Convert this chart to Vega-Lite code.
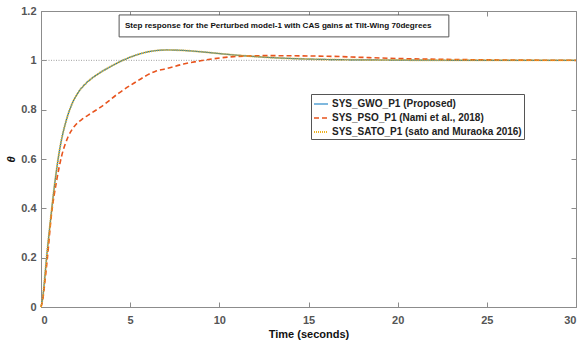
{
  "$schema": "https://vega.github.io/schema/vega-lite/v6.json",
  "width": 535,
  "height": 296,
  "autosize": {"type": "none"},
  "padding": {"left": 41, "top": 11, "right": 5, "bottom": 40},
  "background": "white",
  "config": {
    "view": {"stroke": "#8c8c8c", "strokeWidth": 1},
    "font": "Liberation Sans",
    "axis": {"grid": false, "domainColor": "#8c8c8c", "tickColor": "#8c8c8c", "labelColor": "#555555", "labelFont": "Liberation Sans", "labelFontWeight": "bold", "labelFontSize": 11, "titleFont": "Liberation Sans", "titleFontWeight": "bold", "titleFontSize": 11, "titleColor": "#111111"}
  },
  "datasets": {
    "curves": [
      {"t": 0, "v": 0, "series": "SYS_GWO_P1 (Proposed)"},
      {"t": 0.1, "v": 0.04, "series": "SYS_GWO_P1 (Proposed)"},
      {"t": 0.2, "v": 0.11, "series": "SYS_GWO_P1 (Proposed)"},
      {"t": 0.3, "v": 0.19, "series": "SYS_GWO_P1 (Proposed)"},
      {"t": 0.5, "v": 0.33, "series": "SYS_GWO_P1 (Proposed)"},
      {"t": 0.77, "v": 0.5, "series": "SYS_GWO_P1 (Proposed)"},
      {"t": 1.05, "v": 0.64, "series": "SYS_GWO_P1 (Proposed)"},
      {"t": 1.43, "v": 0.76, "series": "SYS_GWO_P1 (Proposed)"},
      {"t": 1.75, "v": 0.825, "series": "SYS_GWO_P1 (Proposed)"},
      {"t": 2.09, "v": 0.87, "series": "SYS_GWO_P1 (Proposed)"},
      {"t": 2.5, "v": 0.905, "series": "SYS_GWO_P1 (Proposed)"},
      {"t": 3.1, "v": 0.94, "series": "SYS_GWO_P1 (Proposed)"},
      {"t": 3.78, "v": 0.97, "series": "SYS_GWO_P1 (Proposed)"},
      {"t": 4.53, "v": 0.998, "series": "SYS_GWO_P1 (Proposed)"},
      {"t": 5.2, "v": 1.018, "series": "SYS_GWO_P1 (Proposed)"},
      {"t": 6.03, "v": 1.035, "series": "SYS_GWO_P1 (Proposed)"},
      {"t": 7.07, "v": 1.042, "series": "SYS_GWO_P1 (Proposed)"},
      {"t": 8.0, "v": 1.04, "series": "SYS_GWO_P1 (Proposed)"},
      {"t": 8.9, "v": 1.035, "series": "SYS_GWO_P1 (Proposed)"},
      {"t": 10.8, "v": 1.022, "series": "SYS_GWO_P1 (Proposed)"},
      {"t": 12.7, "v": 1.012, "series": "SYS_GWO_P1 (Proposed)"},
      {"t": 14.6, "v": 1.006, "series": "SYS_GWO_P1 (Proposed)"},
      {"t": 16.4, "v": 1.003, "series": "SYS_GWO_P1 (Proposed)"},
      {"t": 20.2, "v": 1.001, "series": "SYS_GWO_P1 (Proposed)"},
      {"t": 25, "v": 1.0, "series": "SYS_GWO_P1 (Proposed)"},
      {"t": 30, "v": 1.0, "series": "SYS_GWO_P1 (Proposed)"},
      {"t": 0, "v": 0, "series": "SYS_PSO_P1 (Nami et al., 2018)"},
      {"t": 0.1, "v": 0.03, "series": "SYS_PSO_P1 (Nami et al., 2018)"},
      {"t": 0.2, "v": 0.09, "series": "SYS_PSO_P1 (Nami et al., 2018)"},
      {"t": 0.36, "v": 0.2, "series": "SYS_PSO_P1 (Nami et al., 2018)"},
      {"t": 0.58, "v": 0.37, "series": "SYS_PSO_P1 (Nami et al., 2018)"},
      {"t": 0.87, "v": 0.51, "series": "SYS_PSO_P1 (Nami et al., 2018)"},
      {"t": 1.15, "v": 0.61, "series": "SYS_PSO_P1 (Nami et al., 2018)"},
      {"t": 1.52, "v": 0.69, "series": "SYS_PSO_P1 (Nami et al., 2018)"},
      {"t": 1.9, "v": 0.735, "series": "SYS_PSO_P1 (Nami et al., 2018)"},
      {"t": 2.28, "v": 0.76, "series": "SYS_PSO_P1 (Nami et al., 2018)"},
      {"t": 2.8, "v": 0.785, "series": "SYS_PSO_P1 (Nami et al., 2018)"},
      {"t": 3.3, "v": 0.808, "series": "SYS_PSO_P1 (Nami et al., 2018)"},
      {"t": 4.34, "v": 0.866, "series": "SYS_PSO_P1 (Nami et al., 2018)"},
      {"t": 5.2, "v": 0.907, "series": "SYS_PSO_P1 (Nami et al., 2018)"},
      {"t": 6.4, "v": 0.955, "series": "SYS_PSO_P1 (Nami et al., 2018)"},
      {"t": 7.07, "v": 0.967, "series": "SYS_PSO_P1 (Nami et al., 2018)"},
      {"t": 8.0, "v": 0.985, "series": "SYS_PSO_P1 (Nami et al., 2018)"},
      {"t": 8.95, "v": 0.998, "series": "SYS_PSO_P1 (Nami et al., 2018)"},
      {"t": 10.8, "v": 1.015, "series": "SYS_PSO_P1 (Nami et al., 2018)"},
      {"t": 12.7, "v": 1.019, "series": "SYS_PSO_P1 (Nami et al., 2018)"},
      {"t": 14.6, "v": 1.018, "series": "SYS_PSO_P1 (Nami et al., 2018)"},
      {"t": 16.4, "v": 1.016, "series": "SYS_PSO_P1 (Nami et al., 2018)"},
      {"t": 18, "v": 1.012, "series": "SYS_PSO_P1 (Nami et al., 2018)"},
      {"t": 20.2, "v": 1.007, "series": "SYS_PSO_P1 (Nami et al., 2018)"},
      {"t": 22.5, "v": 1.004, "series": "SYS_PSO_P1 (Nami et al., 2018)"},
      {"t": 25, "v": 1.002, "series": "SYS_PSO_P1 (Nami et al., 2018)"},
      {"t": 30, "v": 1.0, "series": "SYS_PSO_P1 (Nami et al., 2018)"},
      {"t": 0, "v": 0, "series": "SYS_SATO_P1 (sato and Muraoka 2016)"},
      {"t": 0.1, "v": 0.04, "series": "SYS_SATO_P1 (sato and Muraoka 2016)"},
      {"t": 0.2, "v": 0.11, "series": "SYS_SATO_P1 (sato and Muraoka 2016)"},
      {"t": 0.3, "v": 0.19, "series": "SYS_SATO_P1 (sato and Muraoka 2016)"},
      {"t": 0.5, "v": 0.33, "series": "SYS_SATO_P1 (sato and Muraoka 2016)"},
      {"t": 0.77, "v": 0.5, "series": "SYS_SATO_P1 (sato and Muraoka 2016)"},
      {"t": 1.05, "v": 0.64, "series": "SYS_SATO_P1 (sato and Muraoka 2016)"},
      {"t": 1.43, "v": 0.76, "series": "SYS_SATO_P1 (sato and Muraoka 2016)"},
      {"t": 1.75, "v": 0.825, "series": "SYS_SATO_P1 (sato and Muraoka 2016)"},
      {"t": 2.09, "v": 0.87, "series": "SYS_SATO_P1 (sato and Muraoka 2016)"},
      {"t": 2.5, "v": 0.905, "series": "SYS_SATO_P1 (sato and Muraoka 2016)"},
      {"t": 3.1, "v": 0.94, "series": "SYS_SATO_P1 (sato and Muraoka 2016)"},
      {"t": 3.78, "v": 0.97, "series": "SYS_SATO_P1 (sato and Muraoka 2016)"},
      {"t": 4.53, "v": 0.998, "series": "SYS_SATO_P1 (sato and Muraoka 2016)"},
      {"t": 5.2, "v": 1.018, "series": "SYS_SATO_P1 (sato and Muraoka 2016)"},
      {"t": 6.03, "v": 1.035, "series": "SYS_SATO_P1 (sato and Muraoka 2016)"},
      {"t": 7.07, "v": 1.042, "series": "SYS_SATO_P1 (sato and Muraoka 2016)"},
      {"t": 8.0, "v": 1.04, "series": "SYS_SATO_P1 (sato and Muraoka 2016)"},
      {"t": 8.9, "v": 1.035, "series": "SYS_SATO_P1 (sato and Muraoka 2016)"},
      {"t": 10.8, "v": 1.022, "series": "SYS_SATO_P1 (sato and Muraoka 2016)"},
      {"t": 12.7, "v": 1.012, "series": "SYS_SATO_P1 (sato and Muraoka 2016)"},
      {"t": 14.6, "v": 1.006, "series": "SYS_SATO_P1 (sato and Muraoka 2016)"},
      {"t": 16.4, "v": 1.003, "series": "SYS_SATO_P1 (sato and Muraoka 2016)"},
      {"t": 20.2, "v": 1.001, "series": "SYS_SATO_P1 (sato and Muraoka 2016)"},
      {"t": 25, "v": 1.0, "series": "SYS_SATO_P1 (sato and Muraoka 2016)"},
      {"t": 30, "v": 1.0, "series": "SYS_SATO_P1 (sato and Muraoka 2016)"}
    ],
    "one": [{}]
  },
  "layer": [
    {
      "data": {"name": "one"},
      "mark": {"type": "rule", "color": "#a0a0a0", "strokeWidth": 1, "strokeDash": [1, 1.5]},
      "encoding": {
        "x": {"datum": 0, "type": "quantitative", "axis": {"orient": "top", "labels": false, "title": null, "values": [0, 5, 10, 15, 20, 25, 30], "tickSize": -5, "domain": false}},
        "x2": {"datum": 30},
        "y": {"datum": 1, "type": "quantitative", "axis": {"orient": "right", "labels": false, "title": null, "values": [0, 0.2, 0.4, 0.6, 0.8, 1, 1.2], "tickSize": -5, "domain": false}}
      }
    },
    {
      "data": {"name": "curves"},
      "mark": {"type": "line", "interpolate": "monotone"},
      "encoding": {
        "x": {"field": "t", "type": "quantitative", "scale": {"domain": [0, 30], "nice": false, "zero": false}, "axis": {"title": "Time (seconds)", "values": [0, 5, 10, 15, 20, 25, 30], "tickSize": -5, "labelPadding": 12, "titlePadding": 3}},
        "y": {"field": "v", "type": "quantitative", "scale": {"domain": [0, 1.2], "nice": false}, "axis": {"title": "θ", "titleFontStyle": "italic", "values": [0, 0.2, 0.4, 0.6, 0.8, 1, 1.2], "format": "~g", "tickSize": -5, "labelPadding": 10, "titlePadding": 4}},
        "color": {"field": "series", "type": "nominal", "scale": {"domain": ["SYS_GWO_P1 (Proposed)", "SYS_PSO_P1 (Nami et al., 2018)", "SYS_SATO_P1 (sato and Muraoka 2016)"], "range": ["#0072BD", "#E8541E", "#EDB120"]},
          "legend": {"title": null, "orient": "none", "legendX": 270, "legendY": 83, "strokeColor": "#555555", "fillColor": "white", "padding": 2, "symbolType": "stroke", "symbolSize": 196, "labelFont": "Liberation Sans", "labelFontWeight": "bold", "labelFontSize": 10, "labelColor": "#222222", "labelOffset": 3, "rowPadding": 1, "labelLimit": 300}},
        "strokeDash": {"field": "series", "type": "nominal", "scale": {"domain": ["SYS_GWO_P1 (Proposed)", "SYS_PSO_P1 (Nami et al., 2018)", "SYS_SATO_P1 (sato and Muraoka 2016)"], "range": [[1, 0], [5, 3], [1, 1]]}},
        "strokeWidth": {"field": "series", "type": "nominal", "scale": {"domain": ["SYS_GWO_P1 (Proposed)", "SYS_PSO_P1 (Nami et al., 2018)", "SYS_SATO_P1 (sato and Muraoka 2016)"], "range": [1.2, 2, 1.2]}}
      }
    },
    {
      "data": {"name": "one"},
      "mark": {"type": "rect", "fill": "white", "stroke": "#555555", "strokeWidth": 1},
      "encoding": {
        "x": {"datum": 4.38, "type": "quantitative", "axis": null},
        "x2": {"datum": 22.87},
        "y": {"datum": 1.095, "type": "quantitative", "axis": null},
        "y2": {"datum": 1.184}
      }
    },
    {
      "data": {"name": "one"},
      "mark": {"type": "text", "font": "Liberation Sans", "fontWeight": "bold", "fontSize": 8.1, "color": "#111111", "align": "center", "baseline": "middle"},
      "encoding": {
        "x": {"datum": 13.3, "type": "quantitative", "axis": null},
        "y": {"datum": 1.139, "type": "quantitative", "axis": null},
        "text": {"value": "Step response for the Perturbed model-1 with CAS gains at Tilt-Wing 70degrees"}
      }
    }
  ],
  "resolve": {"axis": {"x": "independent", "y": "independent"}}
}
